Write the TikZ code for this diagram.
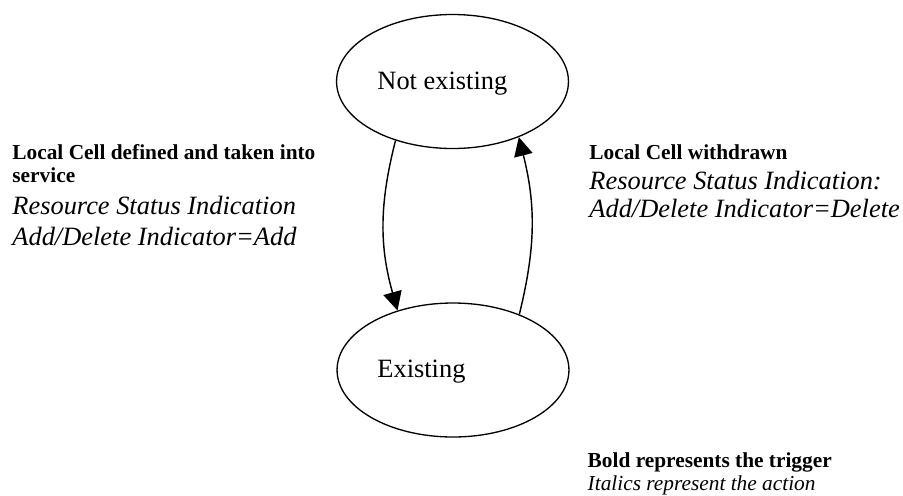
\documentclass[tikz,border=0pt]{standalone}
\usepackage{fontspec}
\setmainfont{Liberation Serif}
\usetikzlibrary{shapes.geometric,arrows.meta}

\tikzset{
  state/.style={draw, ellipse, line width=0.6pt, minimum width=105.4pt, minimum height=60.9pt, inner sep=0pt},
  statetext/.style={anchor=base west, inner sep=0pt, font=\fontsize{12}{14}\selectfont},
  trans/.style={line width=0.65pt, -{Triangle[length=8.5pt,width=8.5pt]}},
  trig/.style={anchor=base west, inner sep=0pt, font=\fontsize{9.7}{11}\selectfont\bfseries},
  act/.style={anchor=base west, inner sep=0pt, font=\fontsize{12}{14}\selectfont\itshape},
  legact/.style={anchor=base west, inner sep=0pt, font=\fontsize{9.7}{11}\selectfont\itshape},
}

\begin{document}
\begin{tikzpicture}[x=0.4545pt, y=-0.4545pt]
  \useasboundingbox (0,0) rectangle (903,495);
  % states
  \node[state] (notex) at (452.5,81.5) {};
  \node[statetext] (notexname) at (377,89) {Not existing};
  \node[state] (ex) at (453,370) {};
  \node[statetext] (exname) at (377,377) {Existing};
  % transitions
  \draw[trans] (notex.226) to[bend right=15] (ex.133);
  \draw[trans] (ex.40) to[bend right=14] (notex.320);
  % left label
  \node[trig] (addtrig1) at (12,159.3) {Local Cell defined and taken into};
  \node[trig] (addtrig2) at (12,182.7) {service};
  \node[act] (addact1) at (12,214) {Resource Status Indication};
  \node[act] (addact2) at (12,245) {Add/Delete Indicator=Add};
  % right label
  \node[trig] (deltrig) at (589,159.3) {Local Cell withdrawn};
  \node[act] (delact1) at (589,189) {Resource Status Indication:};
  \node[act] (delact2) at (589,217.3) {Add/Delete Indicator=Delete};
  % legend
  \node[trig] (legtrig) at (587.3,467.3) {Bold represents the trigger};
  \node[legact] (legact) at (587.3,490) {Italics represent the action};
\end{tikzpicture}
\end{document}
